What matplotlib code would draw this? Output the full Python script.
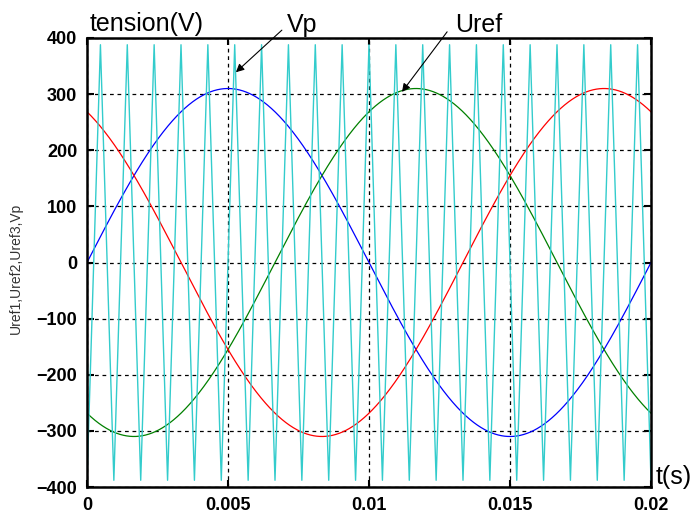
import numpy as np
import matplotlib.pyplot as plt

# three-phase references (Uref1..3) and triangular carrier Vp
T_START, T_END = 0.0, 0.02
REF_FREQ = 50                      # Hz
REF_AMPLITUDE = 310                # V
REF_PHASES_DEG = [0, -120, 120]    # blue, green, red
REF_COLORS = ['#0000ff', '#008000', '#ff0000']
CARRIER_PERIODS = 21               # periods over the window
CARRIER_AMPLITUDE = 388            # V
CARRIER_COLOR = '#33cccc'

X_TICKS = [0, 0.005, 0.01, 0.015, 0.02]
X_TICK_LABELS = ['0', '0.005', '0.01', '0.015', '0.02']
Y_TICKS = [-400, -300, -200, -100, 0, 100, 200, 300, 400]

plt.rcParams['font.family'] = ['Liberation Sans', 'DejaVu Sans']

W, H = 700, 513
fig = plt.figure(figsize=(W / 100, H / 100), dpi=100)
ax = fig.add_axes([87 / W, 1 - 487 / H, (651 - 87) / W, (487 - 38) / H])

t = np.linspace(T_START, T_END, 2001)
w = 2 * np.pi * REF_FREQ
for ph, col in zip(REF_PHASES_DEG, REF_COLORS):
  ax.plot(t, REF_AMPLITUDE * np.sin(w * t + np.deg2rad(ph)), color=col, lw=0.9)

# carrier vertices: starts at the minimum, alternates min/max every half period
n_vert = 2 * CARRIER_PERIODS + 1
tc = np.linspace(T_START, T_END, n_vert)
vc = np.where(np.arange(n_vert) % 2 == 0, -CARRIER_AMPLITUDE, CARRIER_AMPLITUDE)
ax.plot(tc, vc, color=CARRIER_COLOR, lw=1.0)

ax.set_xlim(T_START, T_END)
ax.set_ylim(-400, 400)
ax.set_xticks(X_TICKS)
ax.set_xticklabels(X_TICK_LABELS)
ax.set_yticks(Y_TICKS)
ax.grid(True, color='black', linestyle=(0, (3, 3)), linewidth=0.9)
ax.tick_params(direction='in', length=5, width=1.5, top=True, right=True,
               labelsize=13, pad=7)
for lab in ax.get_xticklabels() + ax.get_yticklabels():
  lab.set_fontweight('bold')
for s in ax.spines.values():
  s.set_linewidth(1.8)

# labels
fig.text(90 / W, 1 - 31 / H, 'tension(V)', fontsize=18, va='baseline', ha='left')
fig.text(656 / W, 1 - 484 / H, 't(s)', fontsize=18, va='baseline', ha='left')
fig.text(16 / W, 1 - 268 / H, 'Uref1,Uref2,Uref3,Vp', fontsize=10, rotation=90,
         va='center', ha='center', color='#333333')

ax.text(0.00709, 410, 'Vp', fontsize=18, va='baseline', ha='left', clip_on=False)
ax.text(0.01305, 410, 'Uref', fontsize=18, va='baseline', ha='left', clip_on=False)
arrow = dict(arrowstyle='-|>', color='black', lw=0.8, mutation_scale=12, shrinkA=0, shrinkB=0)
ax.annotate('', xy=(0.00528, 339), xytext=(0.00691, 414), arrowprops=arrow,
            annotation_clip=False)
ax.annotate('', xy=(0.01117, 304), xytext=(0.01277, 411), arrowprops=arrow,
            annotation_clip=False)

fig.savefig('out.png', dpi=100)
